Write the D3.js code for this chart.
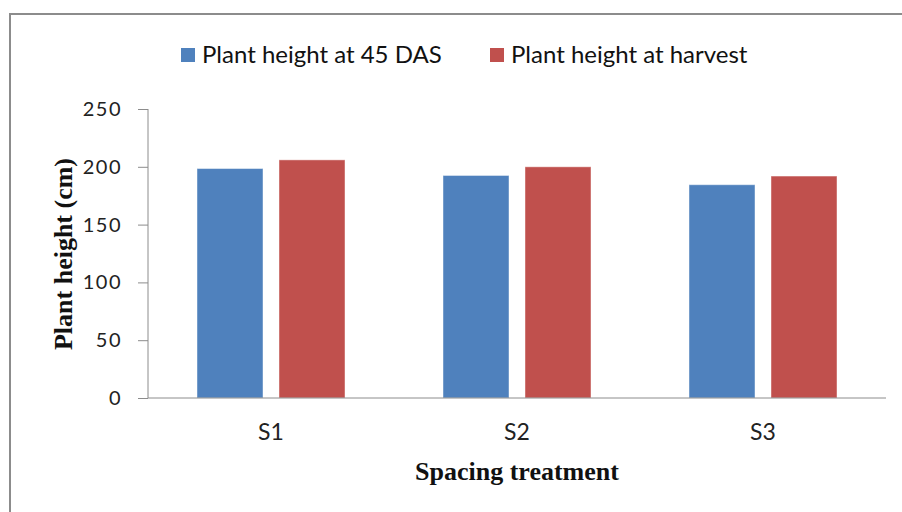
<!DOCTYPE html>
<html>
<head>
<meta charset="utf-8">
<script src="https://cdn.jsdelivr.net/npm/d3@7"></script>
<style>
  body { margin: 0; background: #fff; }
  svg { display: block; }
</style>
</head>
<body>
<svg id="chart" width="902" height="512"></svg>
<script>
// Spacing treatments and plant height (cm) at two stages
const categories = ["S1", "S2", "S3"];
const seriesNames = ["Plant height at 45 DAS", "Plant height at harvest"];
const height45DAS = [198.5, 192.5, 184.5];
const heightHarvest = [206, 200, 192];
const yTicks = [0, 50, 100, 150, 200, 250];
const colors = ["#4F81BD", "#C0504D"];

const series = [height45DAS, heightHarvest];

const svg = d3.select("#chart");
const margin = { left: 148, right: 16, top: 109, bottom: 114 };
const W = 902, H = 512;
const x0 = margin.left, x1 = W - margin.right;
const yTop = margin.top, yBot = H - margin.bottom;
const sansFont = "Lato, 'Open Sans', sans-serif";
const serifFont = "'Liberation Serif', 'Times New Roman', serif";

// Outer frame of the chart area
svg.append("path")
  .attr("d", `M10,${H + 2} V14 H${W + 2}`)
  .attr("fill", "none")
  .attr("stroke", "#8c8c8c")
  .attr("stroke-width", 2);

const x = d3.scaleBand().domain(categories).range([x0, x1]).paddingInner(0).paddingOuter(0);
const xi = d3.scaleBand().domain(d3.range(series.length))
  .range([0, 148]).paddingInner(16 / 82);
const groupOffset = (x.bandwidth() - 148) / 2;

const y = d3.scaleLinear().domain([0, 250]).range([yBot, yTop]);

// Bars
const groups = svg.append("g").selectAll("g")
  .data(categories)
  .join("g")
  .attr("transform", d => `translate(${x(d) + groupOffset},0)`);

groups.selectAll("rect")
  .data((d, i) => series.map((s, k) => ({ k, v: s[i] })))
  .join("rect")
  .attr("x", d => xi(d.k))
  .attr("width", xi.bandwidth())
  .attr("y", d => y(d.v))
  .attr("height", d => y(0) - y(d.v))
  .attr("fill", d => colors[d.k])
  .attr("stroke", "rgba(255,255,255,0.45)")
  .attr("stroke-width", 1);

// Y axis
const yAxis = svg.append("g")
  .attr("transform", `translate(${x0},0)`)
  .call(d3.axisLeft(y).tickValues(yTicks).tickSize(10).tickPadding(16));
yAxis.select(".domain").attr("stroke", "#8c8c8c").attr("d", `M0,${yTop}V${yBot}`);
yAxis.selectAll(".tick line").attr("stroke", "#8c8c8c");
yAxis.selectAll(".tick text")
  .attr("fill", "#222")
  .style("font-family", sansFont)
  .style("font-size", "20px")
  .style("letter-spacing", "1.5px");

// X axis
const xAxis = svg.append("g")
  .attr("transform", `translate(0,${yBot})`)
  .call(d3.axisBottom(x).tickSize(0).tickPadding(26));
xAxis.select(".domain").attr("stroke", "#8c8c8c").attr("d", `M${x0},0H${x1}`);
xAxis.selectAll(".tick text")
  .attr("fill", "#222")
  .style("font-family", sansFont)
  .style("font-size", "23px");

// Axis titles
svg.append("text")
  .attr("x", (x0 + x1) / 2)
  .attr("y", 480)
  .attr("text-anchor", "middle")
  .style("font-family", serifFont)
  .style("font-weight", "bold")
  .style("font-size", "26px")
  .attr("fill", "#111")
  .text("Spacing treatment");

svg.append("text")
  .attr("transform", `translate(72,254) rotate(-90)`)
  .attr("text-anchor", "middle")
  .style("font-family", serifFont)
  .style("font-weight", "bold")
  .style("font-size", "26px")
  .attr("fill", "#111")
  .text("Plant height (cm)");

// Legend
const legendX = [181, 490];
const legend = svg.append("g").selectAll("g")
  .data(seriesNames)
  .join("g")
  .attr("transform", (d, i) => `translate(${legendX[i]},48)`);
legend.append("rect")
  .attr("width", 14).attr("height", 14)
  .attr("fill", (d, i) => colors[i]);
legend.append("text")
  .attr("x", 21).attr("y", 14.5)
  .attr("fill", "#111")
  .style("font-family", sansFont)
  .style("font-size", "24px")
  .text(d => d);
</script>
</body>
</html>
